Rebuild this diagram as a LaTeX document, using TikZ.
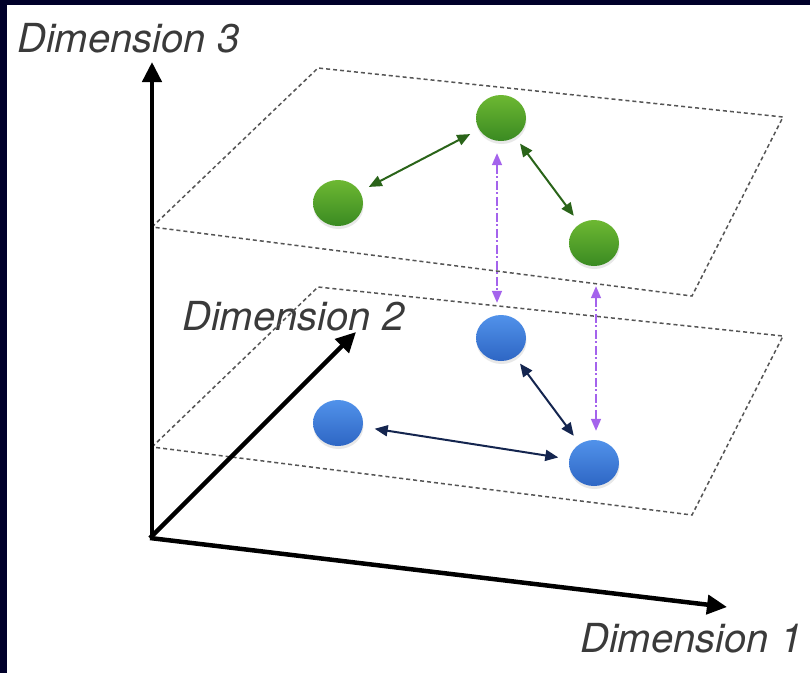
\documentclass[tikz,border=0pt]{standalone}
\usepackage{fontspec}
\setmainfont{TeX Gyre Heros}
\usetikzlibrary{arrows.meta,shapes.geometric,shadows}
\definecolor{navyedge}{HTML}{00002A}
\definecolor{gtop}{HTML}{6DB832}
\definecolor{gbot}{HTML}{3A8A22}
\definecolor{btop}{HTML}{5192EA}
\definecolor{bbot}{HTML}{2E66C4}
\definecolor{garrow}{HTML}{2A6419}
\definecolor{barrow}{HTML}{14254F}
\definecolor{parrow}{HTML}{A463EC}
\definecolor{planeline}{HTML}{555555}
\definecolor{labeltext}{HTML}{3A3A3A}
\tikzset{
  axis/.style={line width=4.5pt, -{Triangle[length=20pt,width=19pt]}},
  plane/.style={planeline, line width=1.5pt, dash pattern=on 4pt off 3pt},
  dimlabel/.style={anchor=base west, inner sep=0pt, text=labeltext,
    font=\fontsize{40}{48}\selectfont\itshape},
  ball/.style={ellipse, minimum width=50pt, minimum height=46pt, inner sep=0pt,
    drop shadow={shadow xshift=0.5pt, shadow yshift=-3pt, opacity=0.18}},
  greenball/.style={ball, top color=gtop, bottom color=gbot},
  blueball/.style={ball, top color=btop, bottom color=bbot},
  garr/.style={garrow, line width=2pt, {Triangle[length=13pt,width=11pt]}-{Triangle[length=13pt,width=11pt]}},
  barr/.style={barrow, line width=2pt, {Triangle[length=13pt,width=11pt]}-{Triangle[length=13pt,width=11pt]}},
  parr/.style={parrow, line width=1.6pt, dash pattern=on 9pt off 2.5pt on 2pt off 2.5pt,
    {Triangle[length=12pt,width=10pt]}-{Triangle[length=12pt,width=10pt]}},
}
\begin{document}
\begin{tikzpicture}[x=1pt,y=-1pt]
  \useasboundingbox (0,0) rectangle (810,673);
  \fill[white] (0,0) rectangle (810,673);
  \fill[navyedge] (0,0) rectangle (810,5);
  \fill[navyedge] (0,0) rectangle (7,673);

  % labels
  \node[dimlabel] (d3) at (17,52) {Dimension 3};
  \node[dimlabel] (d2) at (182,330) {Dimension 2};
  \node[dimlabel] (d1) at (580,652) {Dimension 1};

  % planes
  \draw[plane] (152,227) -- (318,68) -- (783,117) -- (692,296) -- cycle;
  \draw[plane] (152,447) -- (318,287) -- (783,336) -- (692,515) -- cycle;

  % axes
  \coordinate (o) at (150,538);
  \coordinate (t3) at (152,62);
  \coordinate (t1) at (727,607);
  \coordinate (t2) at (356,332);
  \draw[axis] ([xshift=2pt]o) -- (t3);
  \draw[axis] (o) -- (t1);
  \draw[axis] (o) -- (t2);

  % balls
  \node[greenball] (g1) at (501,118) {};
  \node[greenball] (g2) at (338,203) {};
  \node[greenball] (g3) at (594,243) {};
  \node[blueball] (b1) at (501,338) {};
  \node[blueball] (b2) at (338,423) {};
  \node[blueball] (b3) at (594,463) {};

  % in-plane relations
  \draw[garr, shorten <=10pt, shorten >=10pt] (g2) -- (g1);
  \draw[garr, shorten <=8pt, shorten >=10pt] (g1) -- (g3);
  \draw[barr, shorten <=12pt, shorten >=11pt] (b2) -- (b3);
  \draw[barr, shorten <=8pt, shorten >=10pt] (b1) -- (b3);

  % cross-plane relations
  \draw[parr, shorten <=12pt, shorten >=12pt] ([xshift=-4pt]g1.south) -- ([xshift=-4pt]b1.north);
  \draw[parr, shorten <=20pt, shorten >=9pt] ([xshift=2pt]g3.south) -- ([xshift=2pt]b3.north);
\end{tikzpicture}
\end{document}
